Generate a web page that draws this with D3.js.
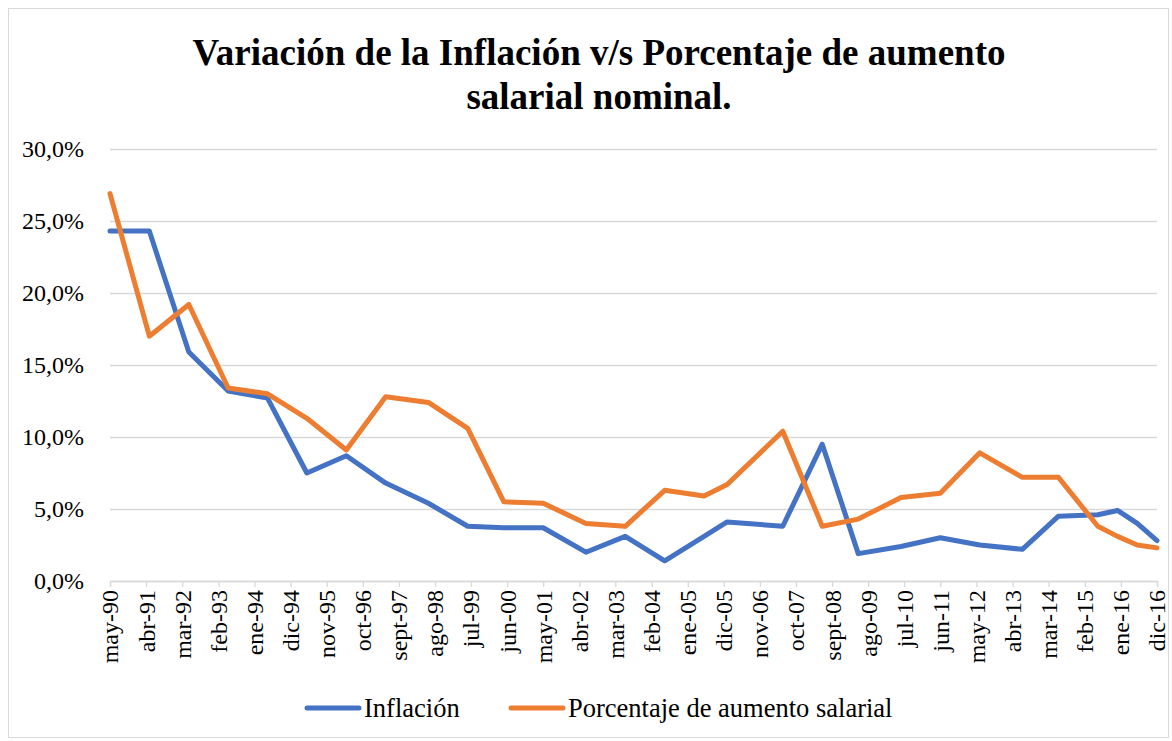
<!DOCTYPE html>
<html>
<head>
<meta charset="utf-8">
<script src="https://cdn.jsdelivr.net/npm/d3@7"></script>
<style>
  body { margin: 0; background: #fff; }
  svg { display: block; }
</style>
</head>
<body>
<div id="chart"></div>
<script>
// fechas de cada observacion (aprox.)
const fechas = [
  '1990-05', '1991-05', '1992-05', '1993-05', '1994-05', '1995-05', '1996-05',
  '1997-05', '1998-06', '1999-06', '2000-05', '2001-05', '2002-06', '2003-06',
  '2004-06', '2005-06', '2006-01', '2007-06', '2008-06', '2009-05', '2010-06',
  '2011-06', '2012-06', '2013-07', '2014-06', '2015-06', '2015-12', '2016-06',
  '2016-12',
];
const inflacion = [
  24.3, 24.3, 15.9, 13.2, 12.7, 7.5, 8.7, 6.8, 5.4, 3.8, 3.7, 3.7, 2.0, 3.1,
  1.4, 3.1, 4.1, 3.8, 9.5, 1.9, 2.4, 3.0, 2.5, 2.2, 4.5, 4.6, 4.9, 4.0, 2.8,
];
const aumentoSalarial = [
  26.9, 17.0, 19.2, 13.4, 13.0, 11.3, 9.1, 12.8, 12.4, 10.6, 5.5, 5.4, 4.0, 3.8,
  6.3, 5.9, 6.7, 10.4, 3.8, 4.3, 5.8, 6.1, 8.9, 7.2, 7.2, 3.8, 3.1, 2.5, 2.3,
];
const xTickLabels = [
  'may-90', 'abr-91', 'mar-92', 'feb-93', 'ene-94', 'dic-94', 'nov-95', 'oct-96',
  'sept-97', 'ago-98', 'jul-99', 'jun-00', 'may-01', 'abr-02', 'mar-03', 'feb-04',
  'ene-05', 'dic-05', 'nov-06', 'oct-07', 'sept-08', 'ago-09', 'jul-10', 'jun-11',
  'may-12', 'abr-13', 'mar-14', 'feb-15', 'ene-16', 'dic-16',
];
const yTicks = [0, 5, 10, 15, 20, 25, 30];

const width = 1172;
const height = 741;
const margin = { left: 110, right: 15, top: 149, bottom: 160 };
const serif = '"Liberation Serif", "Times New Roman", Times, serif';
const gridColor = '#d9d9d9';
const colors = { inflacion: '#4472c4', salario: '#ed7d31' };

const meses = ['ene', 'feb', 'mar', 'abr', 'may', 'jun', 'jul', 'ago', 'sept', 'oct', 'nov', 'dic'];
const parseFecha = d3.timeParse('%Y-%m');
// 'sept-97' -> Date
const parseLabel = (s) => {
  const [m, y] = s.split('-');
  const yy = +y < 50 ? 2000 + +y : 1900 + +y;
  return new Date(yy, meses.indexOf(m), 1);
};

const svg = d3.select('#chart').append('svg')
  .attr('width', width)
  .attr('height', height);

// borde del area del grafico
svg.append('rect')
  .attr('x', 8.5)
  .attr('y', 8.5)
  .attr('width', 1160)
  .attr('height', 729)
  .attr('fill', '#fff')
  .attr('stroke', '#d9d9d9');

const x = d3.scaleTime()
  .domain([parseLabel(xTickLabels[0]), parseLabel(xTickLabels[xTickLabels.length - 1])])
  .range([margin.left, width - margin.right]);

const y = d3.scaleLinear()
  .domain([0, 30])
  .range([height - margin.bottom, margin.top]);

// titulo
const title = svg.append('text')
  .attr('text-anchor', 'middle')
  .style('font-family', serif)
  .style('font-weight', 'bold')
  .style('font-size', '37px')
  .attr('fill', '#000');
title.append('tspan').attr('x', 599).attr('y', 65)
  .text('Variación de la Inflación v/s Porcentaje de aumento');
title.append('tspan').attr('x', 599).attr('y', 109)
  .text('salarial nominal.');

// grilla + eje Y
const yAxis = svg.append('g')
  .attr('transform', `translate(${margin.left},0)`)
  .call(d3.axisLeft(y)
    .tickValues(yTicks)
    .tickSize(-(width - margin.left - margin.right))
    .tickPadding(26)
    .tickFormat((d) => d3.format('.1f')(d).replace('.', ',') + '%'));
yAxis.select('.domain').remove();
yAxis.selectAll('.tick line').attr('stroke', gridColor).attr('stroke-width', 1.3);
yAxis.selectAll('.tick text')
  .style('font-family', serif)
  .style('font-size', '24px')
  .attr('fill', '#000');

// eje X
const xAxis = svg.append('g')
  .attr('transform', `translate(0,${y(0)})`)
  .call(d3.axisBottom(x)
    .tickValues(xTickLabels.map(parseLabel))
    .tickSize(6)
    .tickFormat((d, i) => xTickLabels[i]));
xAxis.select('.domain').attr('stroke', gridColor).attr('stroke-width', 1.3);
xAxis.selectAll('.tick line').attr('stroke', gridColor).attr('stroke-width', 1.3);
xAxis.selectAll('.tick text')
  .style('font-family', serif)
  .style('font-size', '24px')
  .attr('fill', '#000')
  .attr('text-anchor', 'end')
  .attr('transform', 'rotate(-90)')
  .attr('x', -9)
  .attr('y', 0)
  .attr('dy', '0.33em');

// series
const serieData = [
  { key: 'salario', values: aumentoSalarial },
  { key: 'inflacion', values: inflacion },
];
const line = d3.line()
  .x((d) => x(d.fecha))
  .y((d) => y(d.v));

svg.selectAll('path.serie')
  .data(serieData.slice().reverse())
  .enter()
  .append('path')
  .attr('class', 'serie')
  .attr('fill', 'none')
  .attr('stroke', (d) => colors[d.key])
  .attr('stroke-width', 5)
  .attr('stroke-linejoin', 'round')
  .attr('stroke-linecap', 'round')
  .attr('d', (d) => line(d.values.map((v, i) => ({ fecha: parseFecha(fechas[i]), v }))));

// leyenda
const legendItems = [
  { key: 'inflacion', label: 'Inflación', x: 307 },
  { key: 'salario', label: 'Porcentaje de aumento salarial', x: 511 },
];
const legend = svg.selectAll('g.legend')
  .data(legendItems)
  .enter()
  .append('g')
  .attr('class', 'legend')
  .attr('transform', (d) => `translate(${d.x},708)`);
legend.append('line')
  .attr('x1', 0)
  .attr('x2', 52)
  .attr('stroke', (d) => colors[d.key])
  .attr('stroke-width', 5)
  .attr('stroke-linecap', 'round');
legend.append('text')
  .attr('x', 57)
  .attr('dy', '0.35em')
  .style('font-family', serif)
  .style('font-size', '26.5px')
  .attr('fill', '#000')
  .text((d) => d.label);
</script>
</body>
</html>
